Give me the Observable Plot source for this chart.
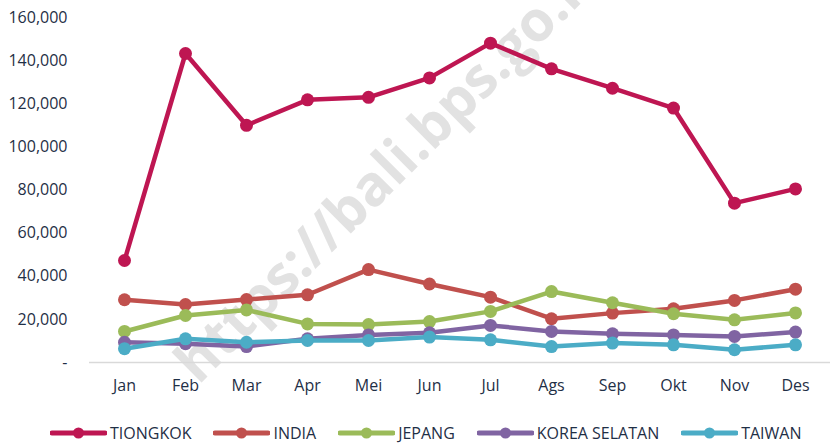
<!DOCTYPE html>
<html>
<head>
<meta charset="utf-8">
<script src="https://cdn.jsdelivr.net/npm/d3@7"></script>
<script src="https://cdn.jsdelivr.net/npm/@observablehq/plot@0.6"></script>
<style>
  html, body { margin: 0; padding: 0; background: #fff; }
  body { width: 830px; height: 443px; overflow: hidden; font-family: "Open Sans", sans-serif; }
  #legend { display: flex; align-items: center; padding-left: 50px; margin-top: 23px; height: 20px; gap: 22px; font-size: 16px; color: #1f2f46; }
  #legend .item { display: flex; align-items: center; gap: 3px; white-space: nowrap; }
  #legend svg { display: block; }
</style>
</head>
<body>
<div id="chart"></div>
<div id="legend"></div>
<script>
const months = ["Jan","Feb","Mar","Apr","Mei","Jun","Jul","Ags","Sep","Okt","Nov","Des"];
const seriesNames = ["TIONGKOK","INDIA","JEPANG","KOREA SELATAN","TAIWAN"];
const tiongkok = [47300,143300,110000,121800,123000,132000,148100,136200,127200,118000,73900,80500];
const india    = [29100,26900,29200,31400,43100,36400,30300,20300,22900,24900,28800,34000];
const jepang   = [14400,21800,24400,17900,17600,19000,23700,32900,27700,22600,19800,23000];
const korea    = [9400,8700,7400,11000,12800,13800,17200,14400,13300,12800,12100,14100];
const taiwan   = [6400,11000,9400,10200,10200,11800,10500,7400,9000,8200,5900,8200];
const seriesValues = [tiongkok, india, jepang, korea, taiwan];
const seriesColors = ["#BE1652","#C0504D","#9BBB59","#8064A2","#4BACC6"];
const yTicks = [0,20000,40000,60000,80000,100000,120000,140000,160000];

const textColor = "#1f2f46";

const marks = [
  Plot.text(["https://bali.bps.go.id"], {
    frameAnchor: "top-left", dx: 286, dy: 135, rotate: -45,
    fontSize: 56, fontWeight: "bold", fill: "#e2e2e2", textAnchor: "middle",
    fontFamily: "Open Sans"
  }),
  Plot.ruleY([0], {stroke: "#d9d9d9", strokeWidth: 1.5})
];
seriesNames.forEach((name, i) => {
  const data = months.map((m, j) => ({month: m, value: seriesValues[i][j]}));
  marks.push(Plot.line(data, {x: "month", y: "value", stroke: seriesColors[i], strokeWidth: 4.5, strokeLinejoin: "round"}));
  marks.push(Plot.dot(data, {x: "month", y: "value", fill: seriesColors[i], r: 6.5}));
});

const chart = Plot.plot({
  width: 830,
  height: 400,
  marginLeft: 89,
  marginRight: 0,
  marginTop: 17,
  marginBottom: 38,
  style: {fontFamily: "Open Sans", fontSize: "16px", color: textColor, background: "transparent", overflow: "hidden"},
  x: {type: "point", domain: months, padding: 0.5, label: null, tickSize: 0, tickPadding: 17},
  y: {domain: [0, 160000], ticks: yTicks, label: null, tickSize: 0, tickPadding: 22,
      tickFormat: d => d === 0 ? "-" : d3.format(",")(d)},
  marks
});
document.getElementById("chart").appendChild(chart);

const legend = document.getElementById("legend");
seriesNames.forEach((name, i) => {
  const item = document.createElement("div");
  item.className = "item";
  const svg = d3.create("svg").attr("width", 57).attr("height", 14);
  svg.append("line").attr("x1", 2).attr("x2", 55).attr("y1", 7).attr("y2", 7)
    .attr("stroke", seriesColors[i]).attr("stroke-width", 5).attr("stroke-linecap", "round");
  svg.append("circle").attr("cx", 28.5).attr("cy", 7).attr("r", 5.5).attr("fill", seriesColors[i]);
  item.appendChild(svg.node());
  const span = document.createElement("span");
  span.textContent = name;
  item.appendChild(span);
  legend.appendChild(item);
});
</script>
</body>
</html>
